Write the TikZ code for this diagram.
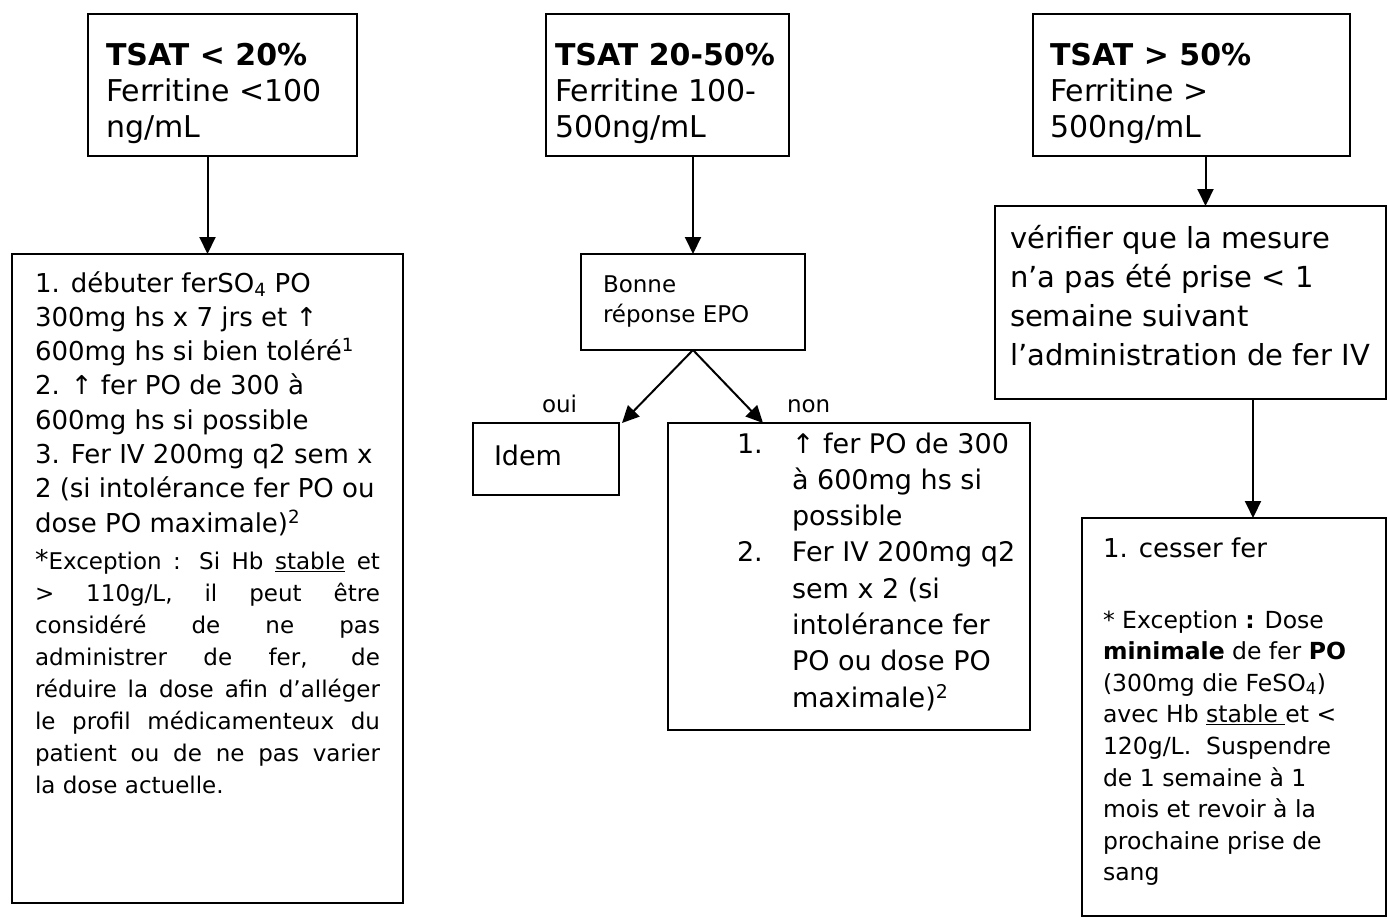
\documentclass[tikz,border=0pt]{standalone}
\usepackage{fontspec}
\setmainfont{DejaVu Sans}
\usetikzlibrary{arrows.meta,calc}
\begin{document}
\begin{tikzpicture}[x=1pt,y=-1pt,
  box/.style={draw, line width=2.3pt, inner sep=0pt, outer sep=0pt, anchor=north west, rectangle},
  txt/.style={inner sep=0pt, outer sep=0pt, anchor=base west},
  arr/.style={line width=2pt, -{Triangle[length=17pt,width=16pt]}}]
\useasboundingbox[fill=white] (0,0) rectangle (1388,918);

% boxes
\node[box, minimum width=269pt, minimum height=142pt] (A) at (88,14) {};
\node[box, minimum width=243pt, minimum height=142pt] (B) at (546,14) {};
\node[box, minimum width=317pt, minimum height=142pt] (C) at (1033,14) {};
\node[box, minimum width=391pt, minimum height=649pt] (A2) at (12,254) {};
\node[box, minimum width=224pt, minimum height=96pt] (B2) at (581,254) {};
\node[box, minimum width=146pt, minimum height=72pt] (Idem) at (473,423) {};
\node[box, minimum width=362pt, minimum height=307pt] (N) at (668,423) {};
\node[box, minimum width=391pt, minimum height=193pt] (C2) at (995,206) {};
\node[box, minimum width=304pt, minimum height=398pt] (C3) at (1082,518) {};

% texts
\node[txt] (At) at (106,65) {\parbox[t]{250pt}{\fontsize{30}{36}\selectfont
\textbf{TSAT < 20\%}\\Ferritine <100\\ng/mL}};
\node[txt] (Bt) at (555,65) {\parbox[t]{226pt}{\fontsize{30}{36}\selectfont
\textbf{TSAT 20-50\%}\\Ferritine 100-\\500ng/mL}};
\node[txt] (Ct) at (1050,65) {\parbox[t]{290pt}{\fontsize{30}{36}\selectfont
\textbf{TSAT > 50\%}\\Ferritine >\\500ng/mL}};

\node[txt] (A2t) at (35,292) {\parbox[t]{345pt}{\fontsize{26}{34.3}\selectfont
1. débuter ferSO\textsubscript{4} PO\\
300mg hs x 7 jrs et ↑\\
600mg hs si bien toléré\textsuperscript{1}\\
2. ↑ fer PO de 300 à\\
600mg hs si possible\\
3. Fer IV 200mg q2 sem x\\
2 (si intolérance fer PO ou\\
dose PO maximale)\textsuperscript{2}\par
\vspace{5pt}\fontsize{23}{32.1}\selectfont
\makebox[345pt][s]{{\fontsize{27}{32}\selectfont *}Exception : Si Hb \underline{stable} et}\\
\makebox[345pt][s]{> 110g/L, il peut être}\\
\makebox[345pt][s]{considéré de ne pas}\\
\makebox[345pt][s]{administrer de fer, de}\\
\makebox[345pt][s]{réduire la dose afin d’alléger}\\
\makebox[345pt][s]{le profil médicamenteux du}\\
\makebox[345pt][s]{patient ou de ne pas varier}\\
la dose actuelle.}};

\node[txt] (B2t) at (603,292) {\parbox[t]{200pt}{\fontsize{23}{30}\selectfont
Bonne\\réponse EPO}};
\node[txt] (oui) at (542,412) {\fontsize{23}{28}\selectfont oui};
\node[txt] (non) at (787,412) {\fontsize{23}{28}\selectfont non};
\node[txt] (Idt) at (494,465) {\fontsize{27}{32}\selectfont Idem};

\node[txt] (Nt) at (737,453) {\parbox[t]{290pt}{\fontsize{27}{36.3}\selectfont
\hangindent=55pt\hangafter=1\makebox[55pt][l]{1.}↑ fer PO de 300\\ à 600mg hs si\\ possible\par
\hangindent=55pt\hangafter=1\makebox[55pt][l]{2.}Fer IV 200mg q2\\ sem x 2 (si\\ intolérance fer\\ PO ou dose PO\\ maximale)\textsuperscript{2}}};

\node[txt] (C2t) at (1010,248) {\parbox[t]{375pt}{\fontsize{29}{39}\selectfont
vérifier que la mesure\\n’a pas été prise < 1\\semaine suivant\\l’administration de fer IV}};

\node[txt] (C3t) at (1103,557) {\parbox[t]{280pt}{\fontsize{26}{31.6}\selectfont
1. cesser fer\par\vspace{39.4pt}\fontsize{23.5}{31.6}\selectfont
* Exception \textbf{:} Dose\\
\textbf{minimale} de fer \textbf{PO}\\
(300mg die FeSO\textsubscript{4})\\
avec Hb \underline{stable\ }et <\\
120g/L.\ \ Suspendre\\
de 1 semaine à 1\\
mois et revoir à la\\
prochaine prise de\\
sang}};

% connectors
\draw[arr] (A.south -| A2.north) -- (A2.north);
\draw[arr] (B.south -| B2.north) -- (B2.north);
\coordinate (c1) at ($(C.south)+(14,0)$);
\draw[arr] (c1) -- (c1 |- C2.north);
\coordinate (c2) at ($(C3.north)+(19,0)$);
\draw[arr] (c2 |- C2.south) -- (c2);
\coordinate (o1) at ($(Idem.north east)+(3,0)$);
\draw[arr] (B2.south) -- (o1);
\coordinate (n1) at ($(N.north west)+(95,0)$);
\draw[arr] (B2.south) -- (n1);
\end{tikzpicture}
\end{document}
